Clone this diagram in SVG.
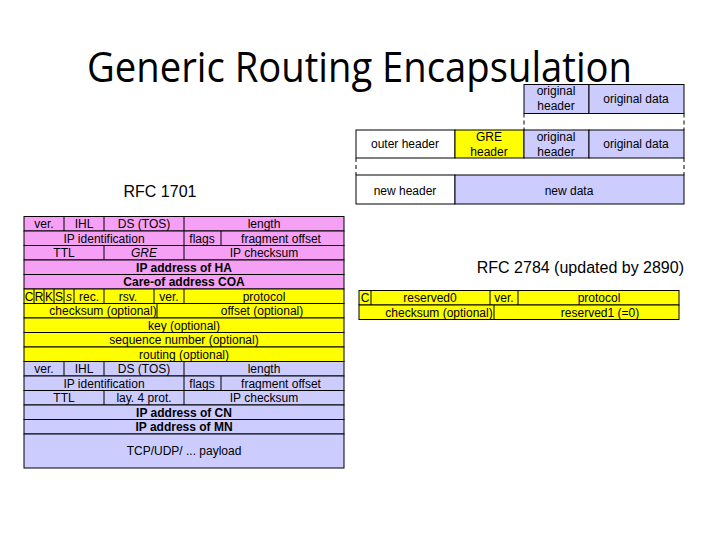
<svg xmlns="http://www.w3.org/2000/svg" width="720" height="540" viewBox="0 0 720 540">
<style>
.t{font-family:"Liberation Sans",Arial,sans-serif;font-size:12px;fill:#000;text-anchor:middle}
.b{font-weight:bold}
.i{font-style:italic}
.pk{fill:#F5A0F5;stroke:#000;stroke-width:1}
.ye{fill:#FFFF00;stroke:#000;stroke-width:1}
.lv{fill:#CCCCFF;stroke:#000;stroke-width:1}
.wh{fill:#FFFFFF;stroke:#000;stroke-width:1}
.ln{stroke:#000;stroke-width:1}
.ds{stroke:#000;stroke-width:1;stroke-dasharray:4,3;fill:none}
.lbl{font-family:"Liberation Sans",Arial,sans-serif;font-size:16px;fill:#000}
</style>
<rect width="720" height="540" fill="#fff"/>
<text x="87" y="82" font-family="'Open Sans','Liberation Sans',sans-serif" font-size="42" textLength="545" lengthAdjust="spacingAndGlyphs" fill="#000">Generic Routing Encapsulation</text>

<g id="encap">
<rect class="lv" x="524" y="84.5" width="65" height="29"/>
<rect class="lv" x="589" y="84.5" width="95" height="29"/>
<text class="t" x="556" y="95">original</text>
<text class="t" x="556" y="110">header</text>
<text class="t" x="636" y="103">original data</text>
<line class="ds" x1="524" y1="113.5" x2="524" y2="130"/>
<line class="ds" x1="684" y1="113.5" x2="684" y2="130"/>
<rect class="wh" x="356" y="130" width="99" height="28"/>
<rect class="ye" x="455" y="130" width="69" height="28"/>
<rect class="lv" x="524" y="130" width="65" height="28"/>
<rect class="lv" x="589" y="130" width="95" height="28"/>
<text class="t" x="405" y="148">outer header</text>
<text class="t" x="489" y="141">GRE</text>
<text class="t" x="489" y="156">header</text>
<text class="t" x="556" y="141">original</text>
<text class="t" x="556" y="156">header</text>
<text class="t" x="636" y="148">original data</text>
<line class="ds" x1="356" y1="158" x2="356" y2="175"/>
<line class="ds" x1="684" y1="158" x2="684" y2="175"/>
<rect class="wh" x="356" y="175" width="99" height="29"/>
<rect class="lv" x="455" y="175" width="229" height="29"/>
<text class="t" x="405" y="195">new header</text>
<text class="t" x="569" y="195">new data</text>
</g>

<text class="lbl" x="160" y="197" text-anchor="middle">RFC 1701</text>

<g id="rfc1701">
<rect class="pk" x="24" y="216.5" width="320" height="14.5"/>
<rect class="pk" x="24" y="231" width="320" height="14.5"/>
<rect class="pk" x="24" y="245.5" width="320" height="14.5"/>
<rect class="pk" x="24" y="260" width="320" height="14.5"/>
<rect class="pk" x="24" y="274.5" width="320" height="14.5"/>
<rect class="ye" x="24" y="289" width="320" height="14.5"/>
<rect class="ye" x="24" y="303.5" width="320" height="14.5"/>
<rect class="ye" x="24" y="318" width="320" height="14.5"/>
<rect class="ye" x="24" y="332.5" width="320" height="14.5"/>
<rect class="ye" x="24" y="347" width="320" height="14.5"/>
<rect class="lv" x="24" y="361.5" width="320" height="14.5"/>
<rect class="lv" x="24" y="376" width="320" height="14.5"/>
<rect class="lv" x="24" y="390.5" width="320" height="14.5"/>
<rect class="lv" x="24" y="405" width="320" height="14.5"/>
<rect class="lv" x="24" y="419.5" width="320" height="14.5"/>
<rect class="lv" x="24" y="434" width="320" height="34"/>
<!-- dividers -->
<line class="ln" x1="64" y1="216.5" x2="64" y2="231"/>
<line class="ln" x1="104" y1="216.5" x2="104" y2="231"/>
<line class="ln" x1="184" y1="216.5" x2="184" y2="231"/>
<line class="ln" x1="184" y1="231" x2="184" y2="245.5"/>
<line class="ln" x1="221" y1="231" x2="221" y2="245.5"/>
<line class="ln" x1="104" y1="245.5" x2="104" y2="260"/>
<line class="ln" x1="184" y1="245.5" x2="184" y2="260"/>
<line class="ln" x1="34" y1="289" x2="34" y2="303.5"/>
<line class="ln" x1="44" y1="289" x2="44" y2="303.5"/>
<line class="ln" x1="54" y1="289" x2="54" y2="303.5"/>
<line class="ln" x1="64" y1="289" x2="64" y2="303.5"/>
<line class="ln" x1="74" y1="289" x2="74" y2="303.5"/>
<line class="ln" x1="104" y1="289" x2="104" y2="303.5"/>
<line class="ln" x1="154" y1="289" x2="154" y2="303.5"/>
<line class="ln" x1="184" y1="289" x2="184" y2="303.5"/>
<line class="ln" x1="157" y1="303.5" x2="157" y2="318"/>
<line class="ln" x1="64" y1="361.5" x2="64" y2="376"/>
<line class="ln" x1="104" y1="361.5" x2="104" y2="376"/>
<line class="ln" x1="184" y1="361.5" x2="184" y2="376"/>
<line class="ln" x1="184" y1="376" x2="184" y2="390.5"/>
<line class="ln" x1="221" y1="376" x2="221" y2="390.5"/>
<line class="ln" x1="104" y1="390.5" x2="104" y2="405"/>
<line class="ln" x1="184" y1="390.5" x2="184" y2="405"/>
<!-- texts -->
<text class="t" x="44" y="228">ver.</text>
<text class="t" x="84" y="228">IHL</text>
<text class="t" x="144" y="228">DS (TOS)</text>
<text class="t" x="264" y="228">length</text>
<text class="t" x="104" y="242.5">IP identification</text>
<text class="t" x="202" y="242.5">flags</text>
<text class="t" x="281" y="242.5">fragment offset</text>
<text class="t" x="64" y="257">TTL</text>
<text class="t i" x="144" y="257">GRE</text>
<text class="t" x="264" y="257">IP checksum</text>
<text class="t b" x="184" y="271.5">IP address of HA</text>
<text class="t b" x="184" y="286">Care-of address COA</text>
<text class="t" x="29" y="300.5">C</text>
<text class="t" x="39" y="300.5">R</text>
<text class="t" x="49" y="300.5">K</text>
<text class="t" x="59" y="300.5">S</text>
<text class="t i" x="69" y="300.5">s</text>
<text class="t" x="89" y="300.5">rec.</text>
<text class="t" x="128" y="300.5">rsv.</text>
<text class="t" x="169" y="300.5">ver.</text>
<text class="t" x="264" y="300.5">protocol</text>
<text class="t" x="103" y="315">checksum (optional)</text>
<text class="t" x="262" y="315">offset (optional)</text>
<text class="t" x="184" y="329.5">key (optional)</text>
<text class="t" x="184" y="344">sequence number (optional)</text>
<text class="t" x="184" y="358.5">routing (optional)</text>
<text class="t" x="44" y="373">ver.</text>
<text class="t" x="84" y="373">IHL</text>
<text class="t" x="144" y="373">DS (TOS)</text>
<text class="t" x="264" y="373">length</text>
<text class="t" x="104" y="387.5">IP identification</text>
<text class="t" x="202" y="387.5">flags</text>
<text class="t" x="281" y="387.5">fragment offset</text>
<text class="t" x="64" y="402">TTL</text>
<text class="t" x="144" y="402">lay. 4 prot.</text>
<text class="t" x="264" y="402">IP checksum</text>
<text class="t b" x="184" y="416.5">IP address of CN</text>
<text class="t b" x="184" y="431">IP address of MN</text>
<text class="t" x="184" y="455">TCP/UDP/ ... payload</text>
</g>

<text class="lbl" x="684" y="273" text-anchor="end">RFC 2784 (updated by 2890)</text>

<g id="rfc2784">
<rect class="ye" x="359" y="290.5" width="320" height="14.5"/>
<rect class="ye" x="359" y="305" width="320" height="14.5"/>
<line class="ln" x1="371" y1="290.5" x2="371" y2="305"/>
<line class="ln" x1="490" y1="290.5" x2="490" y2="305"/>
<line class="ln" x1="518" y1="290.5" x2="518" y2="305"/>
<line class="ln" x1="494" y1="305" x2="494" y2="319.5"/>
<text class="t" x="365" y="302">C</text>
<text class="t" x="430" y="302">reserved0</text>
<text class="t" x="504" y="302">ver.</text>
<text class="t" x="599" y="302">protocol</text>
<text class="t" x="439" y="316.5">checksum (optional)</text>
<text class="t" x="600" y="316.5">reserved1 (=0)</text>
</g>
</svg>
